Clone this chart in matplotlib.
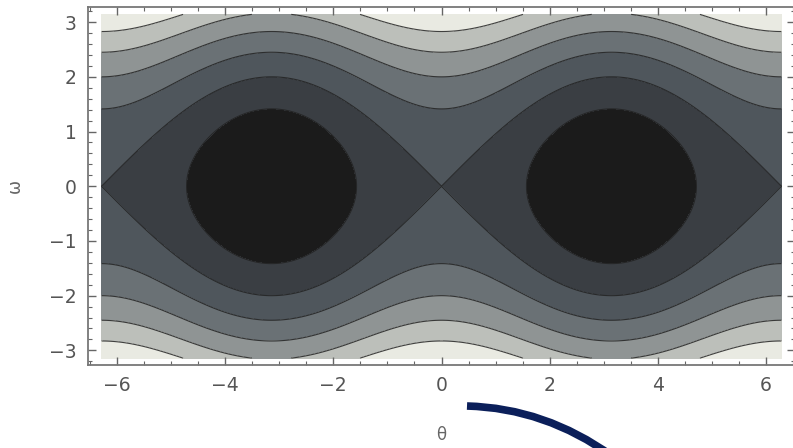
import numpy as np
import matplotlib
matplotlib.use('Agg')
import matplotlib.pyplot as plt
from matplotlib.path import Path
from matplotlib.patches import PathPatch
from matplotlib.ticker import MultipleLocator

# уровни энергии маятника E = w^2/2 + cos(theta)
levels = [-1.0, 0, 1, 2, 3, 4, 5, 6.0]
fill_colors = ['#1b1b1b', '#3a3e43', '#4f565c', '#6a7175', '#8f9494', '#bcbfba', '#e9eae2']
theta_range = (-2 * np.pi, 2 * np.pi)
omega_range = (-np.pi, np.pi)
x_ticks = [-6, -4, -2, 0, 2, 4, 6]
y_ticks = [-3, -2, -1, 0, 1, 2, 3]

th = np.linspace(theta_range[0], theta_range[1], 600)
om = np.linspace(omega_range[0], omega_range[1], 400)
TH, OM = np.meshgrid(th, om)
E = OM**2 / 2 + np.cos(TH)

fig = plt.figure(figsize=(7.93, 4.48), dpi=100)
ax = fig.add_axes([88 / 793, (448 - 365) / 448, 707 / 793, 357.5 / 448])

ax.contourf(TH, OM, E, levels=levels, colors=fill_colors)
ax.contour(TH, OM, E, levels=levels[1:-1], colors='#222222', linewidths=0.8, alpha=0.85)

padx = 0.02 * (theta_range[1] - theta_range[0])
pady = 0.02 * (omega_range[1] - omega_range[0])
ax.set_xlim(theta_range[0] - padx, theta_range[1] + padx)
ax.set_ylim(omega_range[0] - pady, omega_range[1] + pady)

ax.set_xticks(x_ticks)
ax.set_yticks(y_ticks)
ax.set_xticklabels(['\u2212' + str(-t) if t < 0 else str(t) for t in x_ticks])
ax.set_yticklabels(['\u2212' + str(-t) if t < 0 else str(t) for t in y_ticks])
ax.xaxis.set_minor_locator(MultipleLocator(0.5))
ax.yaxis.set_minor_locator(MultipleLocator(0.2))
ax.tick_params(which='both', direction='in', top=True, right=True, color='#666666')
ax.tick_params(which='major', length=6, width=1.0, labelsize=13.5, labelcolor='#555555', pad=8)
ax.tick_params(which='minor', length=3, width=0.8)
for s in ax.spines.values():
    s.set_color('#777777')
    s.set_linewidth(1.3)

ax.set_xlabel('\u03b8', fontsize=12, color='#666666', labelpad=22)
ax.set_ylabel('\u03c9', fontsize=12, color='#666666', labelpad=18)

# синяя дуга внизу (декор со слайда)
verts = [(467, 406), (545, 408), (612, 456)]
verts = [(x / 793, 1 - y / 448) for x, y in verts]
arc = PathPatch(Path(verts, [Path.MOVETO, Path.CURVE3, Path.CURVE3]),
                transform=fig.transFigure, fill=False, edgecolor='#0b1f5a',
                linewidth=5.5, capstyle='butt')
fig.patches.append(arc)

fig.savefig('out.png', dpi=100)
